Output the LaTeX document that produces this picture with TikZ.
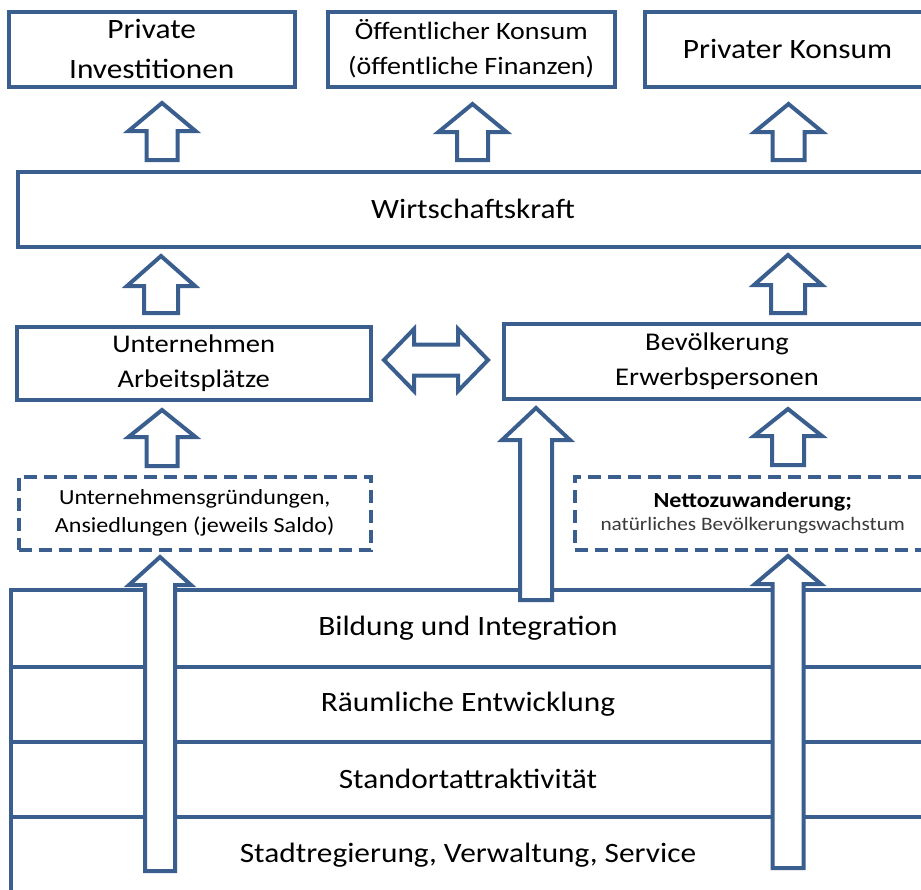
\documentclass[tikz,border=0pt]{standalone}
\usepackage{fontspec}
\setmainfont{Carlito}[FakeStretch=1.12]
\usetikzlibrary{positioning}
\definecolor{frameblue}{HTML}{3A5F8F}
\definecolor{textlight}{HTML}{3A3A3A}

\tikzset{
  box/.style={draw=frameblue, line width=4pt, fill=white, inner sep=0pt, align=center,
    font=\fontsize{28}{40}\selectfont},
  dashbox/.style={box, dash pattern=on 13pt off 7pt, font=\fontsize{21.5}{28}\selectfont},
  band/.style={box, outer sep=0pt, minimum width=914, minimum height=75},
  blockarrow/.style={draw=frameblue, line width=4pt, fill=white, line join=miter},
}

% hollow up arrow: x, tip, head base, bottom, half head, half stem
\newcommand{\hollowup}[6]{%
  \draw[blockarrow] (#1,#2) -- (#1+#5,#3) -- (#1+#6,#3) -- (#1+#6,#4)
    -- (#1-#6,#4) -- (#1-#6,#3) -- (#1-#5,#3) -- cycle;}

\begin{document}
\begin{tikzpicture}[x=1pt, y=-1pt]
\useasboundingbox (0,0) rectangle (921,889);
\clip (0,0) rectangle (921,889);

% bands at the bottom
\node[band, anchor=north west, minimum height=76.5] (bild) at (11,590) {Bildung und Integration};
\node[band, below=0pt of bild] (raum) {Räumliche Entwicklung};
\node[band, below=0pt of raum] (stand) {Standortattraktivität};
\node[band, below=0pt of stand, minimum height=77] (stadt) {Stadtregierung, Verwaltung, Service};

% long arrows out of the bands
\hollowup{160}{557}{585}{871}{31}{15}
\hollowup{788}{556}{584}{868}{33}{15.5}
\hollowup{536}{408}{440}{600}{34}{16}

% top row
\node[box, minimum width=286.5, minimum height=75] (inv) at (151.75,49) {Private\\Investitionen};
\node[box, minimum width=287.5, minimum height=75, font=\fontsize{25}{35}\selectfont] (oeff) at (471.25,49)
  {Öffentlicher Konsum\\(öffentliche Finanzen)};
\node[box, minimum width=286, minimum height=75] (pk) at (787.5,49) {Privater Konsum};

\node[box, minimum width=910, minimum height=75] (wk) at (473,209) {Wirtschaftskraft};

% middle row
\node[box, minimum width=354.5, minimum height=73.5, font=\fontsize{25.5}{35}\selectfont] (unt) at (193.75,363.25)
  {Unternehmen\\Arbeitsplätze};
\node[box, minimum width=427, minimum height=75, font=\fontsize{25.5}{35}\selectfont] (bev) at (717,361)
  {Bevölkerung\\Erwerbspersonen};

\node[dashbox, minimum width=352.5, minimum height=73.5] (gr) at (194.75,513.25)
  {Unternehmensgründungen,\\Ansiedlungen (jeweils Saldo)};
\node[dashbox, minimum width=356.5, minimum height=73.5] (zu) at (752.75,513.25)
  {\textbf{Nettozuwanderung;}\\[-5pt]{\fontsize{19}{23}\selectfont\color{textlight}natürliches Bevölkerungswachstum}};

% short arrows
\hollowup{162}{103}{131}{160}{33.5}{15.5}
\hollowup{472.5}{104}{132}{160}{34}{15.5}
\hollowup{788.5}{104}{132}{160}{34}{16}
\hollowup{161}{256}{286}{313}{34}{17}
\hollowup{788}{255}{285}{313}{34}{17}
\hollowup{162}{410}{437}{466}{33.5}{15.5}
\hollowup{788}{409}{436}{465}{34}{16}

% double arrow between unt and bev
\draw[blockarrow] (384,360) -- (414,329) -- (414,344.5) -- (458,344.5) -- (458,329) -- (488,360)
  -- (458,391) -- (458,375.5) -- (414,375.5) -- (414,391) -- cycle;
\end{tikzpicture}
\end{document}
